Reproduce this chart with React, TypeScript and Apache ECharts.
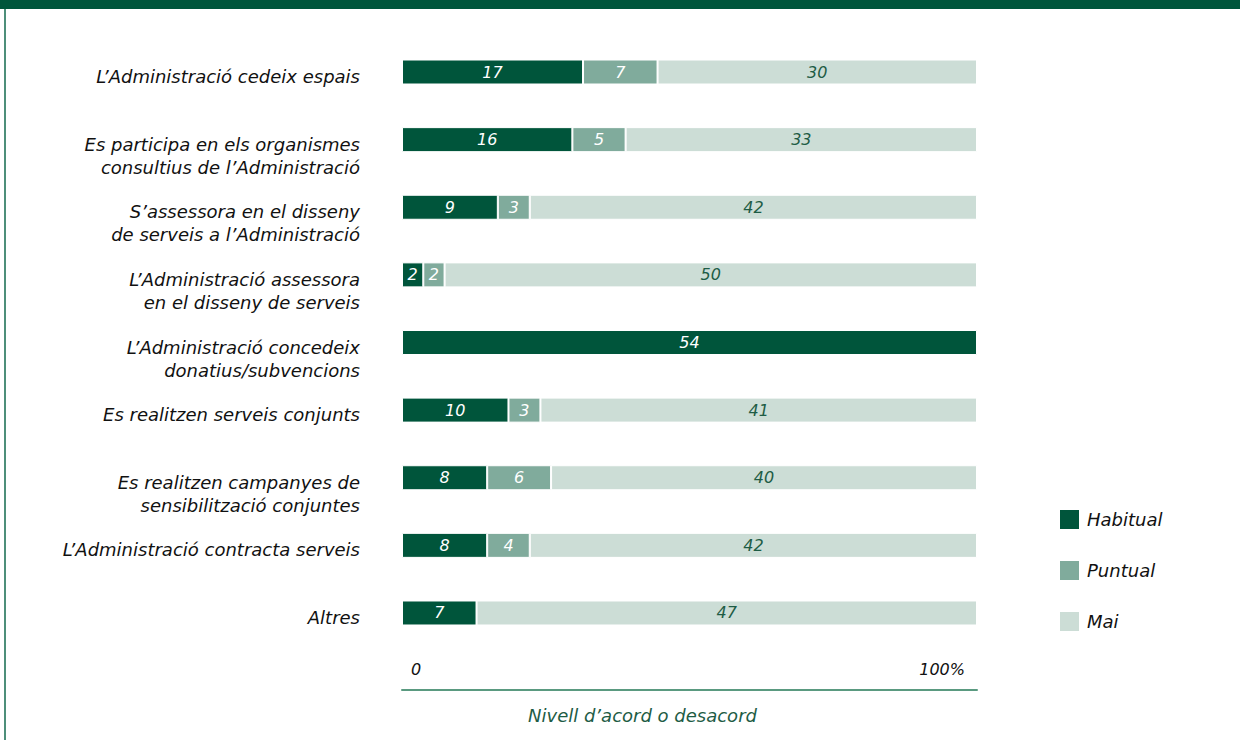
import React, { useEffect, useRef } from "react";
import * as echarts from "echarts";

const categories = [
  "L’Administració cedeix espais",
  "Es participa en els organismes\nconsultius de l’Administració",
  "S’assessora en el disseny\nde serveis a l’Administració",
  "L’Administració assessora\nen el disseny de serveis",
  "L’Administració concedeix\ndonatius/subvencions",
  "Es realitzen serveis conjunts",
  "Es realitzen campanyes de\nsensibilització conjuntes",
  "L’Administració contracta serveis",
  "Altres",
];
const habitual = [17, 16, 9, 2, 54, 10, 8, 8, 7];
const puntual = [7, 5, 3, 2, 0, 3, 6, 4, 0];
const mai = [30, 33, 42, 50, 0, 41, 40, 42, 47];
const seriesNames = ["Habitual", "Puntual", "Mai"];
const seriesColors = ["#00553b", "#80ab9c", "#ccddd6"];
const labelColors = ["#ffffff", "#ffffff", "#1e5c45"];
const total = 54;
const axisName = "Nivell d’acord o desacord";

const FONT = "'DejaVu Sans', 'Open Sans', sans-serif";

export default function App() {
  const ref = useRef<HTMLDivElement>(null);
  useEffect(() => {
    if (!ref.current) return;
    const chart = echarts.init(ref.current, undefined, { renderer: "svg" });
    const values = [habitual, puntual, mai];
    chart.setOption({
      animation: false,
      backgroundColor: "#ffffff",
      textStyle: { fontFamily: FONT },
      graphic: [
        { type: "rect", left: 0, top: 0, shape: { width: 1240, height: 9 }, style: { fill: "#00553b" }, silent: true },
        { type: "rect", left: 4, top: 9, shape: { width: 2, height: 731 }, style: { fill: "#4e8f7a" }, silent: true },
      ],
      legend: {
        orient: "vertical",
        left: 1058,
        top: 508,
        padding: 0,
        itemWidth: 21,
        itemHeight: 21,
        itemGap: 28,
        icon: "rect",
        textStyle: { fontFamily: FONT, fontStyle: "italic", fontSize: 18, color: "#111111", padding: [0, 0, 0, 2] },
        data: seriesNames,
      },
      grid: { left: 402, width: 575, top: 38.2, height: 608.6, containLabel: false },
      xAxis: {
        type: "value",
        min: 0,
        max: total,
        interval: total,
        offset: 43,
        splitLine: { show: false },
        axisTick: { show: false },
        axisLine: { show: true, lineStyle: { color: "#5a9a80", width: 2 } },
        axisLabel: {
          inside: true,
          margin: 12,
          formatter: (v: number) => (v === 0 ? "{a|0}" : "{b|100%}"),
          rich: {
            a: { fontFamily: FONT, fontStyle: "italic", fontSize: 16, color: "#111", padding: [0, 0, 0, 9] },
            b: { fontFamily: FONT, fontStyle: "italic", fontSize: 16, color: "#111", padding: [0, 12, 0, 0] },
          },
          alignMinLabel: "left",
          alignMaxLabel: "right",
        },
        name: axisName,
        nameLocation: "middle",
        nameGap: 17,
        nameTextStyle: {
          fontFamily: FONT,
          fontStyle: "italic",
          fontSize: 18,
          color: "#1e5c45",
          padding: [0, 94, 0, 0],
        },
      },
      yAxis: {
        type: "category",
        inverse: true,
        data: categories,
        axisLine: { show: false },
        axisTick: { show: false },
        axisLabel: {
          margin: 42,
          fontFamily: FONT,
          fontStyle: "italic",
          fontSize: 18,
          lineHeight: 23,
          color: "#111111",
          align: "right",
          verticalAlign: "top",
          padding: [-7, 0, 0, 0],
        },
      },
      series: seriesNames.map((name, i) => ({
        name,
        type: "bar",
        stack: "total",
        barWidth: 25,
        itemStyle: { color: seriesColors[i], borderColor: "#ffffff", borderWidth: 1 },
        label: {
          show: true,
          position: "inside",
          fontFamily: FONT,
          fontStyle: "italic",
          fontSize: 16,
          color: labelColors[i],
          formatter: (p: any) => (p.value ? String(p.value) : ""),
        },
        data: values[i].map((v) => (v === 0 ? "-" : v)),
      })),
    });
    return () => chart.dispose();
  }, []);
  return (
    <div
      ref={ref}
      style={{ position: "fixed", left: 0, top: 0, width: 1240, height: 740 }}
    />
  );
}
